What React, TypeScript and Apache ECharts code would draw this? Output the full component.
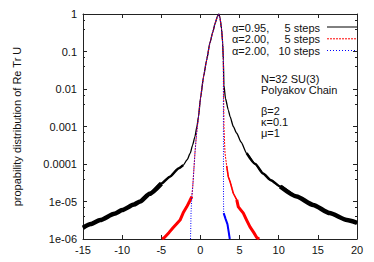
import React, { useEffect, useRef } from "react";
import * as echarts from "echarts";

// x positions and probability values
const blackX = [-15, -14, -12.8, -11, -10, -8.5, -7.7, -6.5, -5, -3.9, -2.8, -2.2, -1.7, -1.3, -1.0, -0.7, -0.45, -0.25, 0, 0.4, 0.8, 1.2, 1.6, 1.87, 2.16, 2.35, 2.5, 2.7, 2.84, 2.93, 3.0, 3.2, 3.56, 3.8, 4.2, 4.64, 5.2, 5.9, 7, 8, 9, 10.2, 12.3, 14.4, 16.5, 18.7, 20];
const blackY = [2.0e-6, 2.5e-6, 3.2e-6, 4.7e-6, 5.9e-6, 8.3e-6, 1.0e-5, 1.6e-5, 3.0e-5, 4.6e-5, 7.6e-5, 9.3e-5, 1.3e-4, 1.95e-4, 3.2e-4, 5.4e-4, 1.0e-3, 1.8e-3, 5.5e-3, 0.0214, 0.06, 0.166, 0.34, 0.56, 0.85, 1.0, 0.79, 0.4, 0.166, 0.059, 0.0126, 5.6e-3, 2.75e-3, 1.8e-3, 1.0e-3, 6.6e-4, 3.8e-4, 1.95e-4, 1.0e-4, 5.6e-5, 3.7e-5, 2.5e-5, 1.35e-5, 8.1e-6, 4.9e-6, 3.2e-6, 2.7e-6];

const redX = [-4.9, -4.6, -4.0, -3.5, -3.0, -2.6, -2.2, -1.75, -1.4, -1.1, -0.98, -0.7, -0.5, -0.25, 0, 0.4, 0.8, 1.2, 1.6, 1.87, 2.16, 2.35, 2.5, 2.7, 2.84, 2.93, 2.96, 3.0, 3.14, 3.35, 3.56, 3.78, 4.2, 4.64, 4.84, 5.48, 5.9, 6.33, 6.8, 7.19, 7.5];
const redY = [1.0e-6, 1.1e-6, 1.5e-6, 2.0e-6, 2.6e-6, 3.2e-6, 5.0e-6, 7.2e-6, 1.0e-5, 1.35e-5, 2.5e-5, 1.95e-4, 6.3e-4, 1.8e-3, 5.5e-3, 0.0214, 0.06, 0.166, 0.34, 0.56, 0.85, 1.0, 0.79, 0.4, 0.166, 0.059, 0.01, 1.0e-3, 1.95e-4, 8.9e-5, 4.6e-5, 3.4e-5, 1.66e-5, 1.1e-5, 7.2e-6, 4.9e-6, 3.2e-6, 2.1e-6, 1.5e-6, 1.1e-6, 1.0e-6];

const blueX = [-1.27, -1.24, -1.2, -1.1, -0.98, -0.7, -0.5, -0.25, 0, 0.4, 0.8, 1.2, 1.6, 1.87, 2.16, 2.35, 2.5, 2.7, 2.84, 2.93, 2.94, 2.95, 2.97, 3.2, 3.45, 3.6, 3.75];
const blueY = [1.0e-6, 1.7e-6, 5.0e-6, 1.35e-5, 2.5e-5, 1.95e-4, 6.3e-4, 1.8e-3, 5.5e-3, 0.0214, 0.06, 0.166, 0.34, 0.56, 0.85, 1.0, 0.79, 0.4, 0.166, 0.059, 1.0e-3, 1.0e-5, 4.9e-6, 3.5e-6, 2.5e-6, 1.6e-6, 1.0e-6];

const yTickLabels = ["1e-06", "1e-05", "0.0001", "0.001", "0.01", "0.1", "1"];
const legendLabels = ["α=0.95,", "α=2.00,", "α=2.00,"];
const legendSteps = ["5 steps", "5 steps", "10 steps"];
const notes = ["N=32 SU(3)", "Polyakov Chain", "", "β=2", "κ=0.1", "μ=1"];
const yTitle = "propability distribution of Re Tr U";

const FONT = "'Liberation Sans', Arial, Helvetica, sans-serif";

function pairs(xs: number[], ys: number[], keep?: (x: number, y: number) => boolean) {
  const out: number[][] = [];
  xs.forEach((x, i) => {
    if (!keep || keep(x, ys[i])) out.push([x, ys[i]]);
  });
  return out;
}

function lineSeries(data: number[][], color: string, width: number, type: any, z: number, smooth: number | boolean = false) {
  return {
    type: "line", data, showSymbol: false, symbol: "none", smooth, smoothMonotone: "x",
    lineStyle: { color, width, type, cap: "butt", join: "round" }, z,
  };
}

export default function App() {
  const ref = useRef<HTMLDivElement>(null);
  useEffect(() => {
    if (!ref.current) return;
    const chart = echarts.init(ref.current, undefined, { renderer: "svg" });
    const axisColor = "#222";
    const labelStyle = { color: "#111", fontFamily: FONT, fontSize: 11 };
    const graphics: any[] = [];
    const legendColors = ["#000", "#ff0000", "#0000ff"];
    const legendDash: any[] = [null, [2, 1], [1, 2]];
    const legendYs = [27.5, 39.3, 51];
    legendLabels.forEach((t, i) => {
      graphics.push({ type: "text", style: { x: 232, y: legendYs[i], text: t, fill: "#111", font: `11px ${FONT}`, verticalAlign: "middle" } });
      graphics.push({ type: "text", style: { x: 320, y: legendYs[i], text: legendSteps[i], fill: "#111", font: `11px ${FONT}`, align: "right", verticalAlign: "middle" } });
      graphics.push({ type: "line", shape: { x1: 327, y1: legendYs[i] - 0.5, x2: 357, y2: legendYs[i] - 0.5 }, style: { stroke: legendColors[i], lineWidth: 1, lineDash: legendDash[i] } });
    });
    notes.forEach((t, i) => {
      if (!t) return;
      graphics.push({ type: "text", style: { x: 261, y: 79 + i * 10.7, text: t, fill: "#111", font: `11px ${FONT}`, verticalAlign: "middle" } });
    });

    const axisLine = { show: true, onZero: false, lineStyle: { color: axisColor, width: 1 } };
    const tick = { show: true, inside: true, length: 4, lineStyle: { color: axisColor } };

    chart.setOption({
      animation: false,
      grid: { left: 83, top: 14, width: 274, height: 225, show: false },
      xAxis: [
        { type: "value", min: -15, max: 20, interval: 5, axisLine, axisTick: tick, axisLabel: { ...labelStyle, margin: 5 }, splitLine: { show: false } },
        { type: "value", min: -15, max: 20, interval: 5, position: "top", axisLine, axisTick: tick, axisLabel: { show: false }, splitLine: { show: false } },
      ],
      yAxis: [
        {
          type: "log", min: 1e-6, max: 1, logBase: 10,
          name: yTitle, nameLocation: "middle", nameRotate: 90, nameGap: 61,
          nameTextStyle: { ...labelStyle },
          axisLine, axisTick: tick,
          minorTick: { show: true, splitNumber: 3, length: 2, lineStyle: { color: axisColor } },
          axisLabel: { ...labelStyle, margin: 6, formatter: (v: number) => yTickLabels[Math.round(Math.log10(v)) + 6] ?? "" },
          splitLine: { show: false },
        },
        {
          type: "log", min: 1e-6, max: 1, logBase: 10, position: "right",
          axisLine, axisTick: tick,
          minorTick: { show: true, splitNumber: 3, length: 2, lineStyle: { color: axisColor } },
          axisLabel: { show: false },
          splitLine: { show: false },
        },
      ],
      series: [
        lineSeries(pairs(blackX, blackY), "#000", 1.3, "solid", 2, 0.2),
        lineSeries(pairs(blackX, blackY, (x) => x <= -2.2), "#000", 2.5, "solid", 2, 0.2),
        lineSeries(pairs(blackX, blackY, (x) => x >= 5.9), "#000", 2.5, "solid", 2, 0.2),
        lineSeries(pairs(blackX, blackY, (x) => x <= -5), "#000", 4.5, "solid", 2, 0.2),
        lineSeries(pairs(blackX, blackY, (x) => x >= 10.2), "#000", 4.5, "solid", 2, 0.2),
        lineSeries(pairs(redX, redY), "#ff0000", 1, [2, 1], 3),
        lineSeries(pairs(redX, redY, (x, y) => y <= 1.4e-5 && x < 0), "#ff0000", 3, "solid", 3),
        lineSeries(pairs(redX, redY, (x, y) => y <= 9e-5 && x > 0), "#ff0000", 1.6, "solid", 3),
        lineSeries(pairs(redX, redY, (x, y) => y <= 1.2e-5 && x > 0), "#ff0000", 3, "solid", 3),
        lineSeries(pairs(blueX, blueY), "#0000ff", 1, [1, 1.5], 4),
        lineSeries(pairs(blueX, blueY, (x) => x >= 2.97), "#0000ff", 2, "solid", 4),
      ],
      graphic: graphics,
    });
    return () => chart.dispose();
  }, []);
  return <div ref={ref} style={{ position: "fixed", left: 0, top: 0, width: 374, height: 262, background: "#fff" }} />;
}
